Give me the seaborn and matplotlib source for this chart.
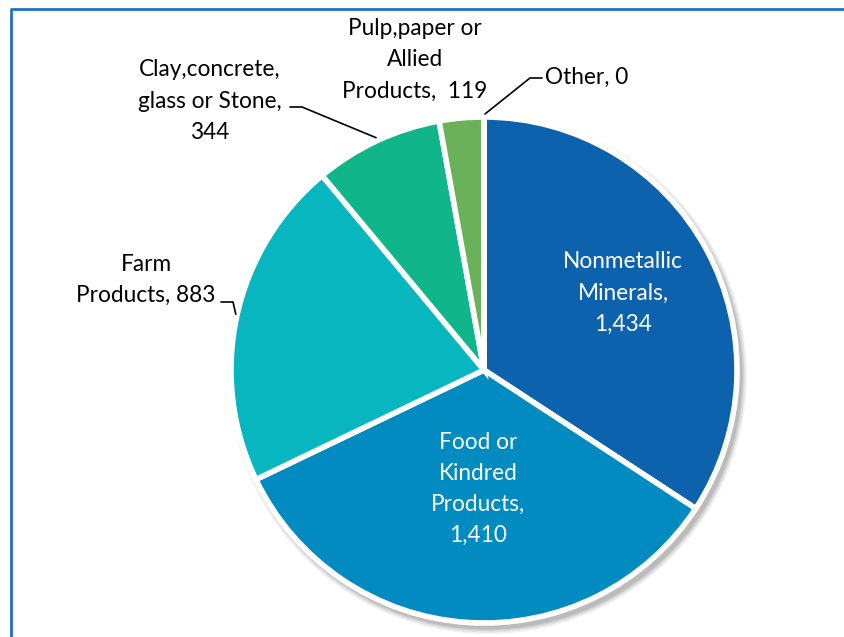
import numpy as np
import matplotlib
matplotlib.use("Agg")
import matplotlib.pyplot as plt
import seaborn as sns

# data
categories = ["Nonmetallic\nMinerals,", "Food or\nKindred\nProducts,", "Farm\nProducts,",
              "Clay,concrete,\nglass or Stone,", "Pulp,paper or\nAllied\nProducts, ", "Other,"]
values = [1434, 1410, 883, 344, 119, 0]
colors = ["#0D62AE", "#028BC1", "#08B6C0", "#10B589", "#6BB15A", "#8064A2"]

sns.set_theme(style="white")
plt.rcParams['font.family'] = ['Lato', 'DejaVu Sans']

W, H = 844, 637
fig = plt.figure(figsize=(W / 100, H / 100), dpi=100)
ax = fig.add_axes([0, 0, 1, 1])

cx, cy, r = 484, H - 370, 253

# soft shadow behind the pie
for i, a in enumerate([0.05, 0.06, 0.08, 0.10]):
    ax.add_patch(plt.Circle((cx + 4, cy - 5), r + 6 - i * 1.5, color="black", alpha=a, lw=0, zorder=0))

wedges, _ = ax.pie(values, colors=colors, startangle=90, counterclock=False,
                   center=(cx, cy), radius=r,
                   wedgeprops=dict(edgecolor="white", linewidth=4))
ax.set_xlim(0, W)
ax.set_ylim(0, H)
ax.set_aspect("equal")
ax.axis("off")

def fmt(v):
    return f"{v:,}"

def py(y):
    return H - y

fs = 16.3
ls = 1.6
lab = [c + "\n" + fmt(v) for c, v in zip(categories, values)]
lab[2] = categories[2] + " " + fmt(values[2])
lab[4] = categories[4] + " " + fmt(values[4])
lab[5] = categories[5] + " " + fmt(values[5])

ax.text(623, py(293), lab[0], ha="center", va="center", color="white", fontsize=fs, linespacing=ls)
ax.text(478, py(489), lab[1], ha="center", va="center", color="white", fontsize=fs, linespacing=ls)
ax.text(146, py(280), lab[2], ha="center", va="center", color="black", fontsize=fs, linespacing=ls)
ax.text(210, py(101), lab[3], ha="center", va="center", color="black", fontsize=fs, linespacing=ls)
ax.text(415, py(60), lab[4], ha="center", va="center", color="black", fontsize=fs, linespacing=ls)
ax.text(545, py(77), lab[5], ha="left", va="center", color="black", fontsize=fs)

# leader lines to wedge midpoints
tot = sum(values)
cum = np.cumsum([0] + values) / tot
def edge_pt(frac):
    ang = np.deg2rad(90 - 360 * frac)
    return cx + r * np.cos(ang), cy + r * np.sin(ang)

fx, fy = edge_pt((cum[2] + cum[3]) / 2)
ax.plot([221, 233, fx - 1], [py(302), py(302), fy + 2], color="black", lw=1.2)
kx, ky = edge_pt((cum[3] + cum[4]) / 2)
ax.plot([290, 302, kx - 1], [py(107), py(107), ky + 3], color="black", lw=1.2)
ox, oy = edge_pt((cum[5] + cum[6]) / 2)
ax.plot([542, 530, ox + 1], [py(78), py(78), oy + 3], color="black", lw=1.2)

# frame lines of the original figure box
ax.plot([10, W], [py(8.5), py(8.5)], color="#1F72C0", lw=2, solid_capstyle="butt")
ax.plot([10.5, 10.5], [py(8.5), 0], color="#1F72C0", lw=2, solid_capstyle="butt")

fig.savefig("out.png", dpi=100)
